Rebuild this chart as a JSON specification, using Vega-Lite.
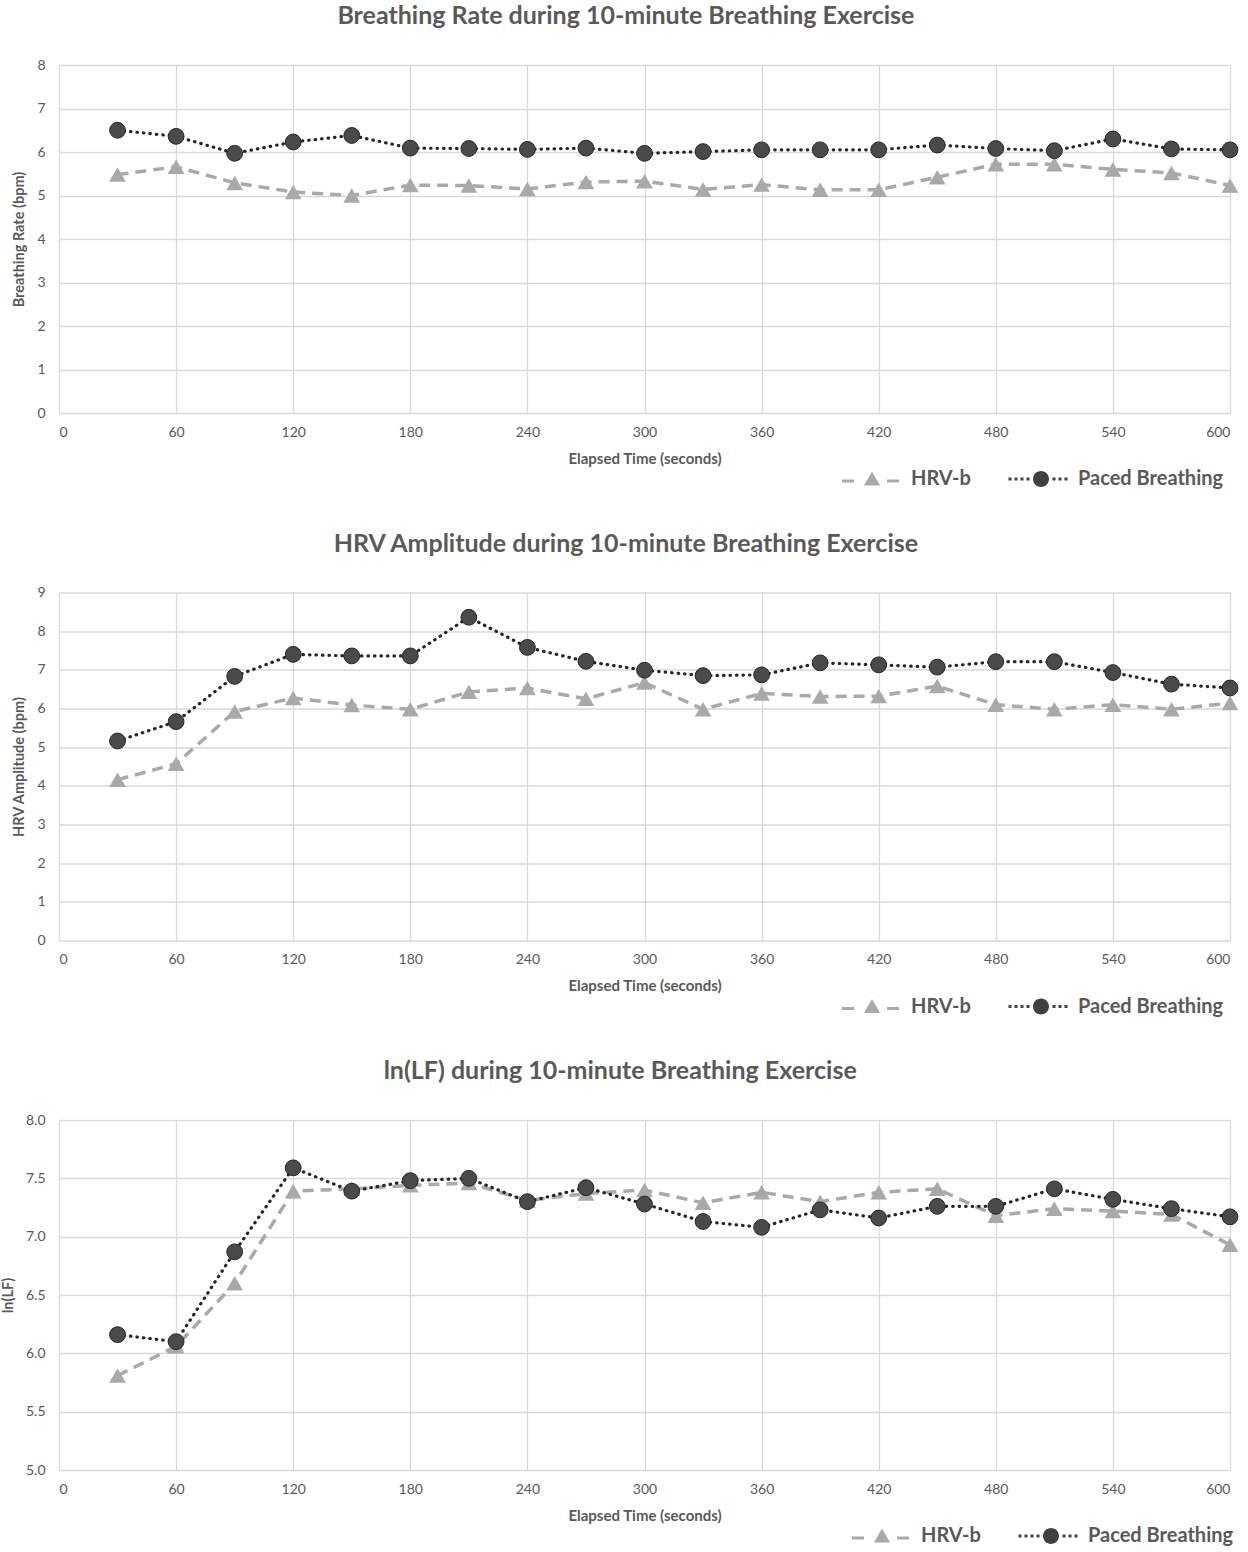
{
  "$schema": "https://vega.github.io/schema/vega-lite/v6.json",
  "padding": {"left": 0, "top": 4, "right": 0, "bottom": 0},
  "datasets": {
    "br": [
      {"time": 30, "series": "HRV-b", "value": 5.48}, {"time": 60, "series": "HRV-b", "value": 5.66},
      {"time": 90, "series": "HRV-b", "value": 5.29}, {"time": 120, "series": "HRV-b", "value": 5.08},
      {"time": 150, "series": "HRV-b", "value": 5.0}, {"time": 180, "series": "HRV-b", "value": 5.24},
      {"time": 210, "series": "HRV-b", "value": 5.23}, {"time": 240, "series": "HRV-b", "value": 5.15},
      {"time": 270, "series": "HRV-b", "value": 5.31}, {"time": 300, "series": "HRV-b", "value": 5.33},
      {"time": 330, "series": "HRV-b", "value": 5.14}, {"time": 360, "series": "HRV-b", "value": 5.25},
      {"time": 390, "series": "HRV-b", "value": 5.13}, {"time": 420, "series": "HRV-b", "value": 5.13},
      {"time": 450, "series": "HRV-b", "value": 5.42}, {"time": 480, "series": "HRV-b", "value": 5.72},
      {"time": 510, "series": "HRV-b", "value": 5.72}, {"time": 540, "series": "HRV-b", "value": 5.6},
      {"time": 570, "series": "HRV-b", "value": 5.52}, {"time": 600, "series": "HRV-b", "value": 5.23},
      {"time": 30, "series": "Paced Breathing", "value": 6.5}, {"time": 60, "series": "Paced Breathing", "value": 6.36},
      {"time": 90, "series": "Paced Breathing", "value": 5.97}, {"time": 120, "series": "Paced Breathing", "value": 6.23},
      {"time": 150, "series": "Paced Breathing", "value": 6.38}, {"time": 180, "series": "Paced Breathing", "value": 6.09},
      {"time": 210, "series": "Paced Breathing", "value": 6.08}, {"time": 240, "series": "Paced Breathing", "value": 6.06},
      {"time": 270, "series": "Paced Breathing", "value": 6.09}, {"time": 300, "series": "Paced Breathing", "value": 5.97},
      {"time": 330, "series": "Paced Breathing", "value": 6.01}, {"time": 360, "series": "Paced Breathing", "value": 6.05},
      {"time": 390, "series": "Paced Breathing", "value": 6.05}, {"time": 420, "series": "Paced Breathing", "value": 6.05},
      {"time": 450, "series": "Paced Breathing", "value": 6.16}, {"time": 480, "series": "Paced Breathing", "value": 6.08},
      {"time": 510, "series": "Paced Breathing", "value": 6.03}, {"time": 540, "series": "Paced Breathing", "value": 6.3},
      {"time": 570, "series": "Paced Breathing", "value": 6.07}, {"time": 600, "series": "Paced Breathing", "value": 6.05}
    ],
    "hrv": [
      {"time": 30, "series": "HRV-b", "value": 4.16}, {"time": 60, "series": "HRV-b", "value": 4.57},
      {"time": 90, "series": "HRV-b", "value": 5.92}, {"time": 120, "series": "HRV-b", "value": 6.27},
      {"time": 150, "series": "HRV-b", "value": 6.09}, {"time": 180, "series": "HRV-b", "value": 5.98},
      {"time": 210, "series": "HRV-b", "value": 6.43}, {"time": 240, "series": "HRV-b", "value": 6.53},
      {"time": 270, "series": "HRV-b", "value": 6.25}, {"time": 300, "series": "HRV-b", "value": 6.67},
      {"time": 330, "series": "HRV-b", "value": 5.98}, {"time": 360, "series": "HRV-b", "value": 6.39},
      {"time": 390, "series": "HRV-b", "value": 6.31}, {"time": 420, "series": "HRV-b", "value": 6.32},
      {"time": 450, "series": "HRV-b", "value": 6.58}, {"time": 480, "series": "HRV-b", "value": 6.1},
      {"time": 510, "series": "HRV-b", "value": 5.98}, {"time": 540, "series": "HRV-b", "value": 6.1},
      {"time": 570, "series": "HRV-b", "value": 5.98}, {"time": 600, "series": "HRV-b", "value": 6.14},
      {"time": 30, "series": "Paced Breathing", "value": 5.16}, {"time": 60, "series": "Paced Breathing", "value": 5.66},
      {"time": 90, "series": "Paced Breathing", "value": 6.83}, {"time": 120, "series": "Paced Breathing", "value": 7.4},
      {"time": 150, "series": "Paced Breathing", "value": 7.36}, {"time": 180, "series": "Paced Breathing", "value": 7.36},
      {"time": 210, "series": "Paced Breathing", "value": 8.36}, {"time": 240, "series": "Paced Breathing", "value": 7.58},
      {"time": 270, "series": "Paced Breathing", "value": 7.22}, {"time": 300, "series": "Paced Breathing", "value": 6.99},
      {"time": 330, "series": "Paced Breathing", "value": 6.85}, {"time": 360, "series": "Paced Breathing", "value": 6.87},
      {"time": 390, "series": "Paced Breathing", "value": 7.18}, {"time": 420, "series": "Paced Breathing", "value": 7.13},
      {"time": 450, "series": "Paced Breathing", "value": 7.07}, {"time": 480, "series": "Paced Breathing", "value": 7.21},
      {"time": 510, "series": "Paced Breathing", "value": 7.21}, {"time": 540, "series": "Paced Breathing", "value": 6.93},
      {"time": 570, "series": "Paced Breathing", "value": 6.63}, {"time": 600, "series": "Paced Breathing", "value": 6.53}
    ],
    "lf": [
      {"time": 30, "series": "HRV-b", "value": 5.81}, {"time": 60, "series": "HRV-b", "value": 6.06},
      {"time": 90, "series": "HRV-b", "value": 6.6}, {"time": 120, "series": "HRV-b", "value": 7.39},
      {"time": 150, "series": "HRV-b", "value": 7.41}, {"time": 180, "series": "HRV-b", "value": 7.44},
      {"time": 210, "series": "HRV-b", "value": 7.46}, {"time": 240, "series": "HRV-b", "value": 7.31},
      {"time": 270, "series": "HRV-b", "value": 7.37}, {"time": 300, "series": "HRV-b", "value": 7.4},
      {"time": 330, "series": "HRV-b", "value": 7.29}, {"time": 360, "series": "HRV-b", "value": 7.38},
      {"time": 390, "series": "HRV-b", "value": 7.3}, {"time": 420, "series": "HRV-b", "value": 7.38},
      {"time": 450, "series": "HRV-b", "value": 7.41}, {"time": 480, "series": "HRV-b", "value": 7.18},
      {"time": 510, "series": "HRV-b", "value": 7.24}, {"time": 540, "series": "HRV-b", "value": 7.22},
      {"time": 570, "series": "HRV-b", "value": 7.19}, {"time": 600, "series": "HRV-b", "value": 6.93},
      {"time": 30, "series": "Paced Breathing", "value": 6.16}, {"time": 60, "series": "Paced Breathing", "value": 6.1},
      {"time": 90, "series": "Paced Breathing", "value": 6.87}, {"time": 120, "series": "Paced Breathing", "value": 7.59},
      {"time": 150, "series": "Paced Breathing", "value": 7.39}, {"time": 180, "series": "Paced Breathing", "value": 7.48},
      {"time": 210, "series": "Paced Breathing", "value": 7.5}, {"time": 240, "series": "Paced Breathing", "value": 7.3},
      {"time": 270, "series": "Paced Breathing", "value": 7.42}, {"time": 300, "series": "Paced Breathing", "value": 7.28},
      {"time": 330, "series": "Paced Breathing", "value": 7.13}, {"time": 360, "series": "Paced Breathing", "value": 7.08},
      {"time": 390, "series": "Paced Breathing", "value": 7.23}, {"time": 420, "series": "Paced Breathing", "value": 7.16},
      {"time": 450, "series": "Paced Breathing", "value": 7.26}, {"time": 480, "series": "Paced Breathing", "value": 7.26},
      {"time": 510, "series": "Paced Breathing", "value": 7.41}, {"time": 540, "series": "Paced Breathing", "value": 7.32},
      {"time": 570, "series": "Paced Breathing", "value": 7.24}, {"time": 600, "series": "Paced Breathing", "value": 7.17}
    ]
  },
  "vconcat": [
    {
      "width": 1171,
      "height": 348,
      "title": "Breathing Rate during 10-minute Breathing Exercise",
      "data": {"name": "br"},
      "encoding": {
        "x": {"field": "time", "type": "quantitative", "scale": {"domain": [0, 600], "nice": false},
          "axis": {"values": [0, 60, 120, 180, 240, 300, 360, 420, 480, 540, 600], "title": "Elapsed Time (seconds)"}},
        "y": {"field": "value", "type": "quantitative", "scale": {"domain": [0, 8], "nice": false},
          "axis": {"values": [0, 1, 2, 3, 4, 5, 6, 7, 8], "title": "Breathing Rate (bpm)"}}
      },
      "layer": [
        {"transform": [{"filter": "datum.series === 'HRV-b'"}],
         "mark": {"type": "line", "color": "#a9a9a9", "strokeWidth": 3.5, "strokeDash": [11, 7]}},
        {"transform": [{"filter": "datum.series === 'HRV-b'"}],
         "mark": {"type": "point", "shape": "triangle-up", "filled": true, "opacity": 1, "size": 280, "color": "#a9a9a9"}},
        {"transform": [{"filter": "datum.series === 'Paced Breathing'"}],
         "mark": {"type": "line", "color": "#262626", "strokeWidth": 3.2, "strokeDash": [0.5, 6], "strokeCap": "round"}},
        {"transform": [{"filter": "datum.series === 'Paced Breathing'"}],
         "mark": {"type": "point", "shape": "circle", "filled": true, "opacity": 1, "size": 250, "color": "#4a4a4a", "stroke": "#262626", "strokeWidth": 1}},
        {"transform": [{"filter": "datum.time < 0"}],
         "mark": {"type": "point", "filled": true, "opacity": 1},
         "encoding": {
           "color": {"field": "series", "type": "nominal",
             "scale": {"domain": ["HRV-b", "Paced Breathing"], "range": ["#a9a9a9", "#404040"]},
             "legend": {"orient": "none", "legendX": 783, "legendY": 404, "direction": "horizontal", "title": null,
               "symbolSize": 400, "symbolStrokeWidth": 0, "symbolOpacity": 1, "labelOffset": 49, "columnPadding": 37,
               "labelFont": "Lato", "labelFontSize": 20, "labelFontWeight": "bold", "labelColor": "#595959"}},
           "shape": {"field": "series", "type": "nominal",
             "scale": {"domain": ["HRV-b", "Paced Breathing"],
               "range": ["M-1,0.05H0.2V0.35H-1Z M1.2,0.65L2,-0.75L2.8,0.65Z M3.5,0.05H4.7V0.35H3.5Z",
                         "M-1.05,-0.15h0.3v0.3h-0.3Z M-0.45,-0.15h0.3v0.3h-0.3Z M0.15,-0.15h0.3v0.3h-0.3Z M0.75,-0.15h0.3v0.3h-0.3Z M1.4,0A0.8,0.8 0 1,1 3,0A0.8,0.8 0 1,1 1.4,0Z M3.35,-0.15h0.3v0.3h-0.3Z M3.95,-0.15h0.3v0.3h-0.3Z M4.55,-0.15h0.3v0.3h-0.3Z"]},
             "legend": {"orient": "none", "legendX": 783, "legendY": 404, "direction": "horizontal", "title": null,
               "symbolSize": 400, "symbolStrokeWidth": 0, "symbolOpacity": 1, "labelOffset": 49, "columnPadding": 37,
               "labelFont": "Lato", "labelFontSize": 20, "labelFontWeight": "bold", "labelColor": "#595959"}}
         }}
      ]
    },
    {
      "width": 1171,
      "height": 348,
      "title": "HRV Amplitude during 10-minute Breathing Exercise",
      "data": {"name": "hrv"},
      "encoding": {
        "x": {"field": "time", "type": "quantitative", "scale": {"domain": [0, 600], "nice": false},
          "axis": {"values": [0, 60, 120, 180, 240, 300, 360, 420, 480, 540, 600], "title": "Elapsed Time (seconds)"}},
        "y": {"field": "value", "type": "quantitative", "scale": {"domain": [0, 9], "nice": false},
          "axis": {"values": [0, 1, 2, 3, 4, 5, 6, 7, 8, 9], "title": "HRV Amplitude (bpm)"}}
      },
      "layer": [
        {"transform": [{"filter": "datum.series === 'HRV-b'"}],
         "mark": {"type": "line", "color": "#a9a9a9", "strokeWidth": 3.5, "strokeDash": [11, 7]}},
        {"transform": [{"filter": "datum.series === 'HRV-b'"}],
         "mark": {"type": "point", "shape": "triangle-up", "filled": true, "opacity": 1, "size": 280, "color": "#a9a9a9"}},
        {"transform": [{"filter": "datum.series === 'Paced Breathing'"}],
         "mark": {"type": "line", "color": "#262626", "strokeWidth": 3.2, "strokeDash": [0.5, 6], "strokeCap": "round"}},
        {"transform": [{"filter": "datum.series === 'Paced Breathing'"}],
         "mark": {"type": "point", "shape": "circle", "filled": true, "opacity": 1, "size": 250, "color": "#4a4a4a", "stroke": "#262626", "strokeWidth": 1}},
        {"transform": [{"filter": "datum.time < 0"}],
         "mark": {"type": "point", "filled": true, "opacity": 1},
         "encoding": {
           "color": {"field": "series", "type": "nominal",
             "scale": {"domain": ["HRV-b", "Paced Breathing"], "range": ["#a9a9a9", "#404040"]},
             "legend": {"orient": "none", "legendX": 783, "legendY": 404, "direction": "horizontal", "title": null,
               "symbolSize": 400, "symbolStrokeWidth": 0, "symbolOpacity": 1, "labelOffset": 49, "columnPadding": 37,
               "labelFont": "Lato", "labelFontSize": 20, "labelFontWeight": "bold", "labelColor": "#595959"}},
           "shape": {"field": "series", "type": "nominal",
             "scale": {"domain": ["HRV-b", "Paced Breathing"],
               "range": ["M-1,0.05H0.2V0.35H-1Z M1.2,0.65L2,-0.75L2.8,0.65Z M3.5,0.05H4.7V0.35H3.5Z",
                         "M-1.05,-0.15h0.3v0.3h-0.3Z M-0.45,-0.15h0.3v0.3h-0.3Z M0.15,-0.15h0.3v0.3h-0.3Z M0.75,-0.15h0.3v0.3h-0.3Z M1.4,0A0.8,0.8 0 1,1 3,0A0.8,0.8 0 1,1 1.4,0Z M3.35,-0.15h0.3v0.3h-0.3Z M3.95,-0.15h0.3v0.3h-0.3Z M4.55,-0.15h0.3v0.3h-0.3Z"]},
             "legend": {"orient": "none", "legendX": 783, "legendY": 404, "direction": "horizontal", "title": null,
               "symbolSize": 400, "symbolStrokeWidth": 0, "symbolOpacity": 1, "labelOffset": 49, "columnPadding": 37,
               "labelFont": "Lato", "labelFontSize": 20, "labelFontWeight": "bold", "labelColor": "#595959"}}
         }}
      ]
    },
    {
      "width": 1171,
      "height": 350,
      "title": "ln(LF) during 10-minute Breathing Exercise",
      "data": {"name": "lf"},
      "encoding": {
        "x": {"field": "time", "type": "quantitative", "scale": {"domain": [0, 600], "nice": false},
          "axis": {"values": [0, 60, 120, 180, 240, 300, 360, 420, 480, 540, 600], "title": "Elapsed Time (seconds)"}},
        "y": {"field": "value", "type": "quantitative", "scale": {"domain": [5, 8], "nice": false, "zero": false},
          "axis": {"values": [5, 5.5, 6, 6.5, 7, 7.5, 8], "format": ".1f", "title": "ln(LF)"}}
      },
      "layer": [
        {"transform": [{"filter": "datum.series === 'HRV-b'"}],
         "mark": {"type": "line", "color": "#a9a9a9", "strokeWidth": 3.5, "strokeDash": [11, 7]}},
        {"transform": [{"filter": "datum.series === 'HRV-b'"}],
         "mark": {"type": "point", "shape": "triangle-up", "filled": true, "opacity": 1, "size": 280, "color": "#a9a9a9"}},
        {"transform": [{"filter": "datum.series === 'Paced Breathing'"}],
         "mark": {"type": "line", "color": "#262626", "strokeWidth": 3.2, "strokeDash": [0.5, 6], "strokeCap": "round"}},
        {"transform": [{"filter": "datum.series === 'Paced Breathing'"}],
         "mark": {"type": "point", "shape": "circle", "filled": true, "opacity": 1, "size": 250, "color": "#4a4a4a", "stroke": "#262626", "strokeWidth": 1}},
        {"transform": [{"filter": "datum.time < 0"}],
         "mark": {"type": "point", "filled": true, "opacity": 1},
         "encoding": {
           "color": {"field": "series", "type": "nominal",
             "scale": {"domain": ["HRV-b", "Paced Breathing"], "range": ["#a9a9a9", "#404040"]},
             "legend": {"orient": "none", "legendX": 793, "legendY": 406, "direction": "horizontal", "title": null,
               "symbolSize": 400, "symbolStrokeWidth": 0, "symbolOpacity": 1, "labelOffset": 49, "columnPadding": 37,
               "labelFont": "Lato", "labelFontSize": 20, "labelFontWeight": "bold", "labelColor": "#595959"}},
           "shape": {"field": "series", "type": "nominal",
             "scale": {"domain": ["HRV-b", "Paced Breathing"],
               "range": ["M-1,0.05H0.2V0.35H-1Z M1.2,0.65L2,-0.75L2.8,0.65Z M3.5,0.05H4.7V0.35H3.5Z",
                         "M-1.05,-0.15h0.3v0.3h-0.3Z M-0.45,-0.15h0.3v0.3h-0.3Z M0.15,-0.15h0.3v0.3h-0.3Z M0.75,-0.15h0.3v0.3h-0.3Z M1.4,0A0.8,0.8 0 1,1 3,0A0.8,0.8 0 1,1 1.4,0Z M3.35,-0.15h0.3v0.3h-0.3Z M3.95,-0.15h0.3v0.3h-0.3Z M4.55,-0.15h0.3v0.3h-0.3Z"]},
             "legend": {"orient": "none", "legendX": 793, "legendY": 406, "direction": "horizontal", "title": null,
               "symbolSize": 400, "symbolStrokeWidth": 0, "symbolOpacity": 1, "labelOffset": 49, "columnPadding": 37,
               "labelFont": "Lato", "labelFontSize": 20, "labelFontWeight": "bold", "labelColor": "#595959"}}
         }}
      ]
    }
  ],
  "resolve": {
    "scale": {"color": "independent", "shape": "independent"},
    "legend": {"color": "independent", "shape": "independent"}
  },
  "spacing": 42.5,
  "config": {
    "font": "Lato",
    "view": {"stroke": null},
    "axis": {
      "grid": true, "gridColor": "#d9d9d9", "gridWidth": 1.3, "domain": false, "ticks": false,
      "labelFont": "Lato", "labelFontSize": 14, "labelColor": "#595959",
      "titleFont": "Lato", "titleColor": "#595959", "titleFontWeight": "bold"
    },
    "axisX": {"labelPadding": 12, "titleFontSize": 15, "titlePadding": 12},
    "axisY": {"labelPadding": 14, "titleFontSize": 14.5, "titlePadding": 10},
    "title": {"font": "Lato", "fontSize": 25, "fontWeight": "bold", "color": "#595959", "offset": 29, "frame": "bounds", "anchor": "middle"}
  }
}
